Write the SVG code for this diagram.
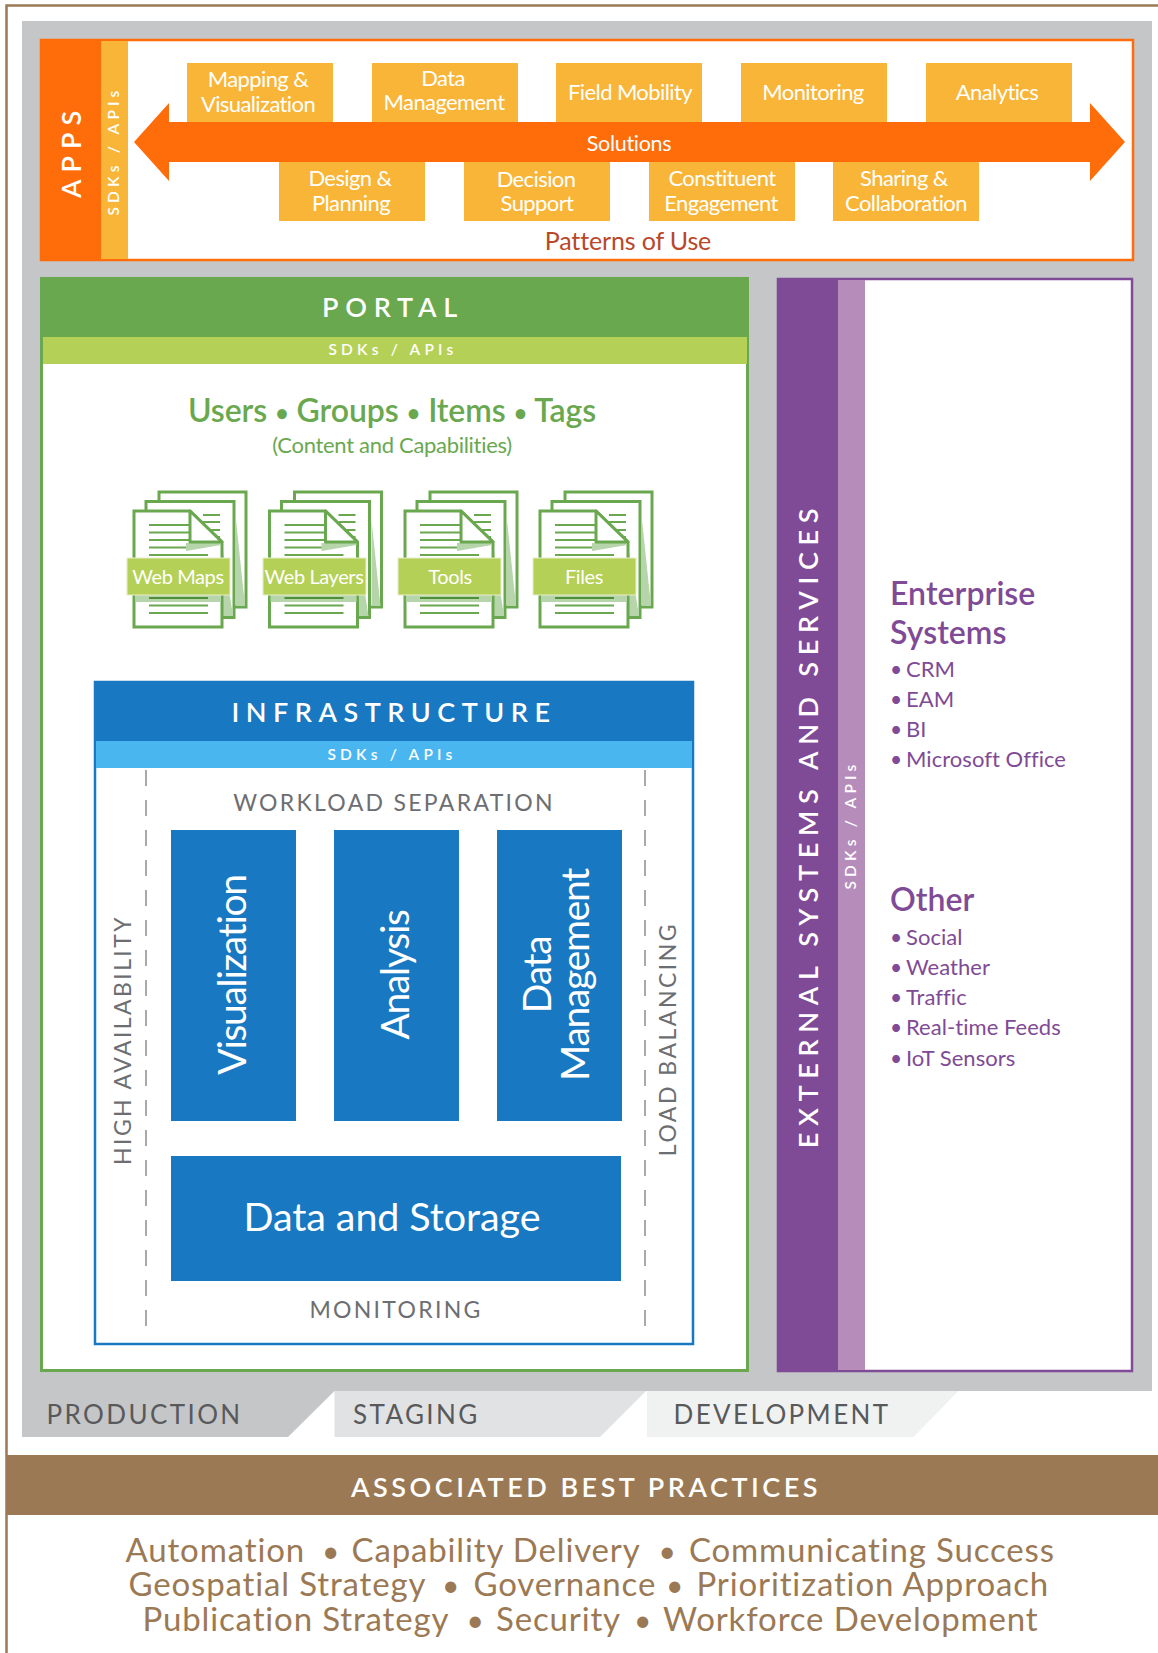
<svg xmlns="http://www.w3.org/2000/svg" width="1158" height="1653" viewBox="0 0 1158 1653">
<defs>
<style>
text{font-family:Lato,"Open Sans","Liberation Sans",sans-serif}
.m{text-anchor:middle}
.w{fill:#fff}
.box{fill:#f9b537}
.bt{fill:#fff;font-size:22px;text-anchor:middle;letter-spacing:-.6px}
.blue{fill:#1878c1}
.pg{fill:#fff;stroke:#6aa84f;stroke-width:3}
.ln{stroke:#6aa84f;stroke-width:2.2;fill:none}
.sh{fill:#b6d5ab}
.lab{fill:#b5d056;stroke:#e6eecb;stroke-width:1}
.lt{fill:#fff;font-size:20px;text-anchor:middle;letter-spacing:-.4px}
.pu{fill:#7f4a96;font-size:22px;letter-spacing:.05px}
.dot{font-size:21px}
.ph{fill:#7f4a96;font-size:32px;font-weight:600;letter-spacing:.05px}
.gt{fill:#6d6e71;font-size:23px;letter-spacing:2.3px}
.env{fill:#58595b;font-size:26px;letter-spacing:2.4px}
.br{fill:#9b7954;font-size:33px;letter-spacing:.85px}
.bd{font-size:30px}
.dash{stroke:#a7a9ac;stroke-width:2;stroke-dasharray:16 14;fill:none}
.t1{font-size:27px;font-weight:600;letter-spacing:6.500px;fill:#fff}
.t2{font-size:15.500px;font-weight:600;letter-spacing:4.200px;fill:#fff}
.big{font-size:39px;letter-spacing:-1.300px;fill:#fff;text-anchor:middle}
.gb{font-size:24px}
</style>
<g id="doc">
<rect class="pg" x="159" y="492" width="87" height="115"/>
<path class="sh" d="M236 520L245 606H236Z"/>
<rect class="pg" x="146" y="501.500" width="88" height="116"/>
<path class="sh" d="M222 545L233 616H222Z"/>
<path class="ln" d="M203 515H220M203 522H220M203 530H220M203 537H220"/>
<path d="M134 511H190L222 542V627H134Z" fill="#fff" stroke="#6aa84f" stroke-width="3"/>
<path class="ln" d="M149 525H190M149 532.500H190M149 540H190M149 547.500H190"/>
<path class="ln" d="M149 555H208M149 562H208M149 598H208M149 605.500H208M149 613H208"/>
<path d="M186 543H221V545L186 551Z" fill="#b6d5ab"/>
<path d="M190 511L222 542H190Z" fill="#fff" stroke="#6aa84f" stroke-width="3" stroke-linejoin="round"/>
<path d="M135 595H221V602H135Z" fill="#b6d5ab"/>
<path d="M149 598H208" stroke="#4f8f38" stroke-width="2.200"/>
</g>
</defs>
<rect width="1158" height="1653" fill="#fff"/>
<path d="M1158 5.500H6.500V1653" fill="none" stroke="#9b7954" stroke-width="2.500"/>
<rect x="22" y="21" width="1130" height="1370" fill="#c5c6c8"/>

<g id="apps">
<rect x="41" y="40" width="1092" height="220" fill="#fff" stroke="#ff6d0a" stroke-width="2.500"/>
<rect x="40" y="39" width="61" height="222" fill="#ff6d0a"/>
<rect x="101" y="41" width="27" height="218" fill="#f9b537"/>
<text class="t1 m" transform="translate(81 151) rotate(-90)" style="letter-spacing:7px">APPS</text>
<text class="t2 m" transform="translate(119 151) rotate(-90)">SDKs / APIs</text>
<text x="628" y="250" class="m" style="font-size:25px;fill:#b9472a;letter-spacing:-.15px">Patterns of Use</text>
</g>
<g id="solutions-arrow">
<path d="M134 142L169 103V122H1090V103L1125 142L1090 181V162H169V181Z" fill="#ff6d0a"/>
<text x="629" y="151" class="m w" style="font-size:21.500px;letter-spacing:-.3px">Solutions</text>
</g>
<g id="app-mapping"><rect class="box" x="187" y="63" width="146" height="59"/><text class="bt" x="258" y="87">Mapping &amp;</text><text class="bt" x="258" y="112">Visualization</text></g>
<g id="app-data"><rect class="box" x="372" y="63" width="146" height="59"/><text class="bt" x="443" y="86">Data</text><text class="bt" x="444" y="110">Management</text></g>
<g id="app-field"><rect class="box" x="556" y="63" width="146" height="59"/><text class="bt" x="630" y="100">Field Mobility</text></g>
<g id="app-monitoring"><rect class="box" x="741" y="63" width="146" height="59"/><text class="bt" x="813" y="100">Monitoring</text></g>
<g id="app-analytics"><rect class="box" x="926" y="63" width="146" height="59"/><text class="bt" x="997" y="100">Analytics</text></g>
<g id="app-design"><rect class="box" x="279" y="162" width="146" height="59"/><text class="bt" x="350" y="186">Design &amp;</text><text class="bt" x="351" y="211">Planning</text></g>
<g id="app-decision"><rect class="box" x="464" y="162" width="146" height="59"/><text class="bt" x="536" y="187">Decision</text><text class="bt" x="537" y="211">Support</text></g>
<g id="app-constituent"><rect class="box" x="649" y="162" width="146" height="59"/><text class="bt" x="722" y="186">Constituent</text><text class="bt" x="721" y="211">Engagement</text></g>
<g id="app-sharing"><rect class="box" x="833" y="162" width="146" height="59"/><text class="bt" x="904" y="186">Sharing &amp;</text><text class="bt" x="906" y="211">Collaboration</text></g>

<g id="portal">
<rect x="41.500" y="278.500" width="706" height="1092" fill="#fff" stroke="#6aa84f" stroke-width="3"/>
<rect x="40" y="277" width="709" height="60" fill="#6aa84f"/>
<rect x="43" y="337" width="704" height="27" fill="#b5d056"/>
<text x="393" y="317" class="m t1" style="letter-spacing:6.800px">PORTAL</text>
<text x="393" y="355" class="m t2">SDKs / APIs</text>
<text x="392" y="421.500" class="m" style="font-size:32px;font-weight:600;fill:#6aa84f;letter-spacing:-.1px">Users <tspan class="gb">•</tspan> Groups <tspan class="gb">•</tspan> Items <tspan class="gb">•</tspan> Tags</text>
<text x="392" y="453" class="m" style="font-size:22px;fill:#6aa84f;letter-spacing:-.3px">(Content and Capabilities)</text>
</g>
<g id="doc-webmaps"><use href="#doc"/><rect class="lab" x="127" y="558" width="103" height="37"/><text class="lt" x="178" y="584">Web Maps</text></g>
<g id="doc-weblayers"><use href="#doc" x="135.500"/><rect class="lab" x="263" y="558" width="103" height="37"/><text class="lt" x="314" y="584">Web Layers</text></g>
<g id="doc-tools"><use href="#doc" x="271"/><rect class="lab" x="398" y="558" width="103" height="37"/><text class="lt" x="450" y="584">Tools</text></g>
<g id="doc-files"><use href="#doc" x="406"/><rect class="lab" x="533" y="558" width="103" height="37"/><text class="lt" x="584" y="584">Files</text></g>

<g id="infrastructure">
<rect x="95" y="682" width="598" height="662" fill="#fff" stroke="#1878c1" stroke-width="2.500"/>
<rect x="94" y="681" width="600" height="60" class="blue"/>
<rect x="96" y="741" width="596" height="27" fill="#4ab6ef"/>
<text x="394" y="722" class="m t1">INFRASTRUCTURE</text>
<text x="392" y="760" class="m t2">SDKs / APIs</text>
<text x="394" y="811" class="m gt">WORKLOAD SEPARATION</text>
<text x="396" y="1318" class="m gt">MONITORING</text>
<text class="gt m" transform="translate(131 1040) rotate(-90)" style="letter-spacing:2.400px">HIGH AVAILABILITY</text>
<text class="gt m" transform="translate(676 1039) rotate(-90)" style="letter-spacing:2.500px">LOAD BALANCING</text>
<path class="dash" d="M146 770V1332M645 770V1332"/>
</g>
<g id="block-visualization"><rect class="blue" x="171" y="830" width="125" height="291"/><text class="big" transform="translate(246 975) rotate(-90)">Visualization</text></g>
<g id="block-analysis"><rect class="blue" x="334" y="830" width="125" height="291"/><text class="big" transform="translate(409 975) rotate(-90)">Analysis</text></g>
<g id="block-data-management"><rect class="blue" x="497" y="830" width="125" height="291"/><text class="big" transform="translate(551 975) rotate(-90)">Data</text><text class="big" transform="translate(589 975) rotate(-90)">Management</text></g>
<g id="block-storage"><rect class="blue" x="171" y="1156" width="450" height="125"/><text x="392" y="1231" class="m w" style="font-size:39.500px;letter-spacing:-.1px">Data and Storage</text></g>

<g id="external">
<rect x="778" y="279" width="354" height="1092" fill="#fff" stroke="#7f4a96" stroke-width="2.500"/>
<rect x="777" y="278" width="61" height="1094" fill="#7f4a96"/>
<rect x="838" y="280" width="27" height="1090" fill="#b68cbb"/>
<text class="t1 m" transform="translate(818 825) rotate(-90)" style="letter-spacing:6.700px">EXTERNAL SYSTEMS AND SERVICES</text>
<text class="t2 m" transform="translate(856 825) rotate(-90)">SDKs / APIs</text>
<text class="ph" x="890" y="605">Enterprise</text>
<text class="ph" x="890" y="644">Systems</text>
<text class="pu dot" x="890" y="677">•</text><text class="pu" x="906" y="677">CRM</text>
<text class="pu dot" x="890" y="707">•</text><text class="pu" x="906" y="707">EAM</text>
<text class="pu dot" x="890" y="737">•</text><text class="pu" x="906" y="737">BI</text>
<text class="pu dot" x="890" y="767">•</text><text class="pu" x="906" y="767">Microsoft Office</text>
<text class="ph" x="890" y="911">Other</text>
<text class="pu dot" x="890" y="945">•</text><text class="pu" x="906" y="945">Social</text>
<text class="pu dot" x="890" y="975">•</text><text class="pu" x="906" y="975">Weather</text>
<text class="pu dot" x="890" y="1005">•</text><text class="pu" x="906" y="1005">Traffic</text>
<text class="pu dot" x="890" y="1035">•</text><text class="pu" x="906" y="1035">Real-time Feeds</text>
<text class="pu dot" x="890" y="1066">•</text><text class="pu" x="906" y="1066">IoT Sensors</text>
</g>

<g id="environments">
<g id="env-production"><path d="M22 1391H334.500L288 1437H22Z" fill="#c5c6c8"/><text class="env" x="46.500" y="1424">PRODUCTION</text></g>
<g id="env-staging"><path d="M334.500 1391H646L600 1437H334.500Z" fill="#e1e2e4"/><text class="env" x="353" y="1424">STAGING</text></g>
<g id="env-development"><path d="M647 1391H958.500L913.500 1437H647Z" fill="#f0f1f1"/><text class="env" x="673.500" y="1424">DEVELOPMENT</text></g>
</g>

<g id="best-practices">
<rect x="6" y="1455" width="1152" height="60" fill="#9b7954"/>
<text x="586" y="1497" class="m w" style="font-size:27px;font-weight:600;letter-spacing:3.500px">ASSOCIATED BEST PRACTICES</text>
<text class="br" y="1562"><tspan x="125.500">Automation</tspan><tspan class="bd" x="322">•</tspan><tspan x="351.500">Capability Delivery</tspan><tspan class="bd" x="658.500">•</tspan><tspan x="689">Communicating Success</tspan></text>
<text class="br" y="1596"><tspan x="128.500">Geospatial Strategy</tspan><tspan class="bd" x="442">•</tspan><tspan x="473.400">Governance</tspan><tspan class="bd" x="666">•</tspan><tspan x="696.500">Prioritization Approach</tspan></text>
<text class="br" y="1631"><tspan x="142.500">Publication Strategy</tspan><tspan class="bd" x="466.500">•</tspan><tspan x="496">Security</tspan><tspan class="bd" x="634">•</tspan><tspan x="663">Workforce Development</tspan></text>
</g>
</svg>
